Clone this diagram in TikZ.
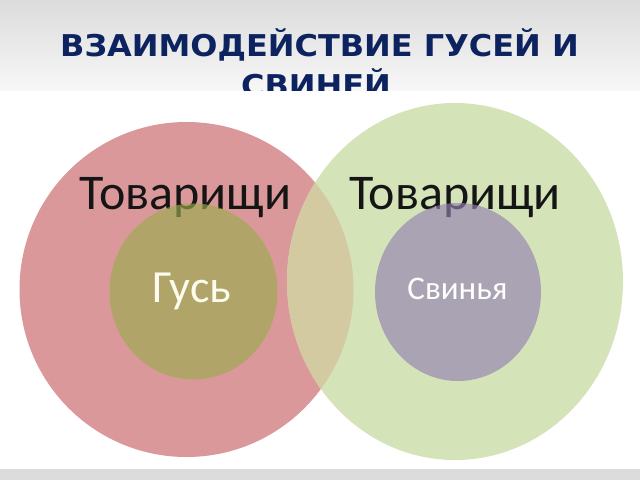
\documentclass[tikz,border=0pt]{standalone}
\usepackage{fontspec}
\setmainfont{Carlito}
\newfontfamily\titlefont{DejaVu Sans}
\definecolor{titleblue}{HTML}{0C2360}
\definecolor{hdrtop}{HTML}{DCDCDC}
\definecolor{hdrbot}{HTML}{F7F7F7}
\definecolor{barcol}{HTML}{DCDCDC}
\definecolor{redcol}{HTML}{DB989A}
\definecolor{greencol}{HTML}{D5E3B9}
\definecolor{overcol}{HTML}{D3CAA2}
\definecolor{olivecol}{HTML}{9CAB4E}
\definecolor{purpcol}{HTML}{9382B0}
\definecolor{darktext}{HTML}{151515}
\definecolor{creamtext}{HTML}{FCFCEE}
\tikzset{
  titlestyle/.style={anchor=base, inner sep=0pt, text=titleblue,
    font=\titlefont\bfseries\fontsize{30}{36}\selectfont, xscale=1.065},
  bigtext/.style={anchor=base, inner sep=0pt, text=darktext,
    font=\fontsize{50}{58}\selectfont},
  gooselabel/.style={anchor=base, inner sep=0pt, text=creamtext,
    font=\fontsize{46}{54}\selectfont},
  piglabel/.style={anchor=base, inner sep=0pt, text=white,
    font=\fontsize{33}{40}\selectfont},
}
\begin{document}
\begin{tikzpicture}[x=1pt,y=-1pt]
\useasboundingbox (0,0) rectangle (640,480);
% header
\fill[top color=hdrtop, bottom color=hdrbot] (0,0) rectangle (640,90.7);
\node[titlestyle] (t1) at (319.5,56.7) {ВЗАИМОДЕЙСТВИЕ ГУСЕЙ И};
\node[titlestyle] (t2) at (316,96.7) {СВИНЕЙ};
% picture area
\fill[white] (0,90.7) rectangle (640,469);
\fill[barcol] (0,469) rectangle (640,480);
% big circles
\fill[redcol] (186.5,289.5) ellipse [x radius=167pt, y radius=167.5pt];
\fill[greencol] (455,281.5) ellipse [x radius=168pt, y radius=178.5pt];
\begin{scope}
  \clip (186.5,289.5) ellipse [x radius=167pt, y radius=167.5pt];
  \fill[overcol] (455,281.5) ellipse [x radius=168pt, y radius=178.5pt];
\end{scope}
% labels of big circles
\node[bigtext] (tl) at (185.5,209) {Товарищи};
\node[bigtext] (tr) at (455,209) {Товарищи};
% inner circles
\fill[olivecol, fill opacity=0.65] (193.5,291.5) ellipse [x radius=84pt, y radius=88pt];
\fill[purpcol, fill opacity=0.65] (458,292) ellipse [x radius=83pt, y radius=89pt];
\node[gooselabel] (goose) at (192,302) {Гусь};
\node[piglabel] (pig) at (457.5,299.3) {Свинья};
\end{tikzpicture}
\end{document}
